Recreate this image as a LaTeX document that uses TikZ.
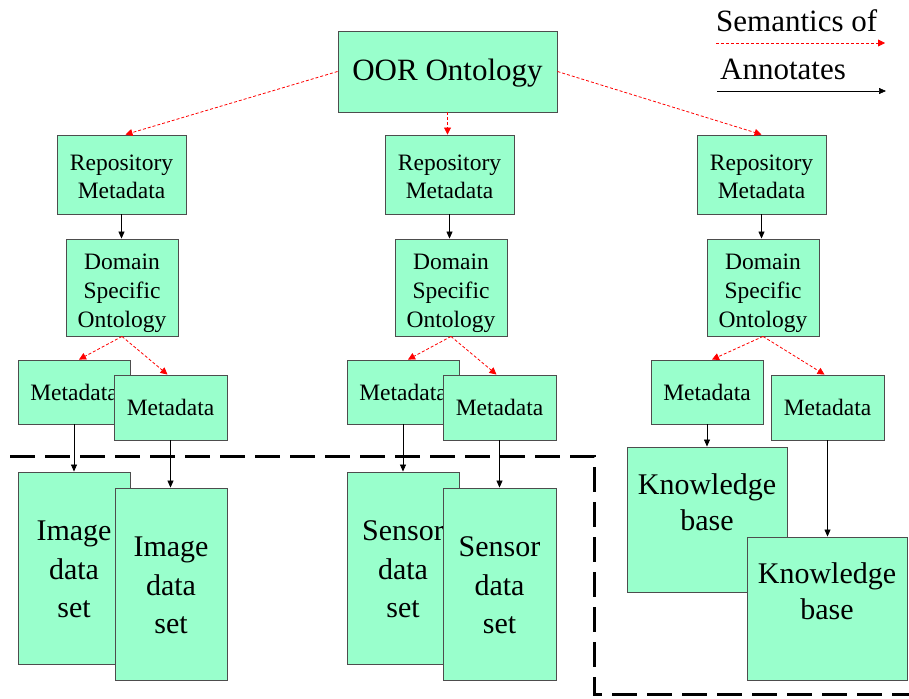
\documentclass[tikz,border=0pt]{standalone}
\usepackage{fontspec}
\setmainfont{Liberation Serif}
\usetikzlibrary{arrows.meta,calc}
\definecolor{mint}{HTML}{99FFCC}
\definecolor{edgegrey}{HTML}{4D4D4D}
\begin{document}
\begin{tikzpicture}[x=1pt,y=-1pt,
  box/.style={draw=edgegrey, fill=mint, line width=0.9pt, inner sep=0pt, align=center},
  txt/.style={inner sep=0pt, align=center},
  ann/.style={draw=black, line width=0.7pt, -{Triangle[length=7pt,width=6pt]}},
  sem/.style={draw=red, line width=0.8pt, dash pattern=on 3pt off 2pt, -{Triangle[length=7pt,width=7pt]}},
  region/.style={draw=black, line width=3pt, dash pattern=on 25pt off 10pt},
  fbig/.style={font=\fontsize{31}{36}\selectfont},
  fsmall/.style={font=\fontsize{23.5}{28}\selectfont},
  fdom/.style={font=\fontsize{23.5}{29}\selectfont},
  fdata/.style={font=\fontsize{30}{38.5}\selectfont},
  fkb/.style={font=\fontsize{30}{36.5}\selectfont},
]
\useasboundingbox (0,0) rectangle (909,698);

% top
\node[box, fbig, minimum width=219pt, minimum height=81pt] (oor) at (447.5,71.5) {\rule{0pt}{25pt}OOR Ontology};

% repository metadata
\node[box, fsmall, minimum width=129pt, minimum height=79pt] (rep1) at (121.5,174.5) {\rule{0pt}{20pt}Repository\\Metadata};
\node[box, fsmall, minimum width=129pt, minimum height=79pt] (rep2) at (449.5,174.5) {\rule{0pt}{20pt}Repository\\Metadata};
\node[box, fsmall, minimum width=129pt, minimum height=79pt] (rep3) at (761.5,174.5) {\rule{0pt}{20pt}Repository\\Metadata};

% domain specific ontology
\node[box, fdom, minimum width=112pt, minimum height=97pt] (dom1) at (122,287.5) {\rule{0pt}{27pt}Domain\\Specific\\Ontology};
\node[box, fdom, minimum width=112pt, minimum height=97pt] (dom2) at (451,287.5) {\rule{0pt}{27pt}Domain\\Specific\\Ontology};
\node[box, fdom, minimum width=112pt, minimum height=97pt] (dom3) at (763,287.5) {\rule{0pt}{27pt}Domain\\Specific\\Ontology};

% metadata pairs
\node[box, fsmall, minimum width=112pt, minimum height=64pt] (meta1a) at (74,392) {Metadata};
\node[box, fsmall, minimum width=113pt, minimum height=65pt] (meta1b) at (170.5,407.5) {Metadata};
\node[box, fsmall, minimum width=112pt, minimum height=64pt] (meta2a) at (403,392) {Metadata};
\node[box, fsmall, minimum width=113pt, minimum height=65pt] (meta2b) at (499.5,407.5) {Metadata};
\node[box, fsmall, minimum width=112pt, minimum height=64pt] (meta3a) at (707,392) {Metadata};
\node[box, fsmall, minimum width=113pt, minimum height=65pt] (meta3b) at (827.5,407.5) {Metadata};

% data sets
\node[box, fdata, minimum width=112pt, minimum height=192pt] (img1) at (74,568) {\rule{0pt}{23pt}Image\\data\\set};
\node[box, fdata, minimum width=112pt, minimum height=192pt] (img2) at (171,584) {\rule{0pt}{23pt}Image\\data\\set};
\node[box, fdata, minimum width=112pt, minimum height=192pt] (sen1) at (403,568) {\rule{0pt}{23pt}Sensor\\data\\set};
\node[box, fdata, minimum width=113pt, minimum height=192pt] (sen2) at (499.5,584) {\rule{0pt}{23pt}Sensor\\data\\set};

% knowledge bases
\node[box, minimum width=160pt, minimum height=145pt] (kb1) at (707,519.5) {};
\node[txt, fkb] (kb1t) at (707,502) {Knowledge\\base};
\node[box, minimum width=160pt, minimum height=143pt] (kb2) at (827,608.5) {};
\node[txt, fkb] (kb2t) at (827,591) {Knowledge\\base};

% dashed region
\coordinate (r1) at (10,456);
\coordinate (r2) at (594,456);
\coordinate (r3) at (594,694);
\coordinate (r4) at (912,694);
\draw[region] (r1) -- (r2) -- (r3) -- (r4);

% semantics arrows
\draw[sem] (oor.west) -- ($(rep1.north)+(4,0)$);
\draw[sem] (oor.south) -- (oor.south |- rep2.north);
\draw[sem] (oor.east) -- (rep3.north);
\draw[sem] (dom1.south) -- ($(meta1a.north)+(5,0)$);
\draw[sem] (dom1.south) -- ($(meta1b.north)+(-3,0)$);
\draw[sem] (dom2.south) -- ($(meta2a.north)+(5,0)$);
\draw[sem] (dom2.south) -- ($(meta2b.north)+(-3,0)$);
\draw[sem] (dom3.south) -- ($(meta3a.north)+(5,0)$);
\draw[sem] (dom3.south) -- ($(meta3b.north)+(-3,0)$);

% annotates arrows
\draw[ann] (rep1.south) -- (rep1.south |- dom1.north);
\draw[ann] (rep2.south) -- (rep2.south |- dom2.north);
\draw[ann] (rep3.south) -- (rep3.south |- dom3.north);
\draw[ann] (meta1a.south) -- (meta1a.south |- img1.north);
\draw[ann] (meta1b.south) -- (meta1b.south |- img2.north);
\draw[ann] (meta2a.south) -- (meta2a.south |- sen1.north);
\draw[ann] (meta2b.south) -- (meta2b.south |- sen2.north);
\draw[ann] (meta3a.south) -- (meta3a.south |- kb1.north);
\draw[ann] (meta3b.south) -- (meta3b.south |- kb2.north);

% legend
\node[txt, fbig, anchor=base west] (lsem) at (716,31.5) {Semantics of};
\coordinate (ls1) at (716,43);
\coordinate (ls2) at (885,43);
\draw[sem] (ls1) -- (ls2);
\node[txt, fbig, anchor=base west] (lann) at (720,79.5) {Annotates};
\coordinate (la1) at (717,91);
\coordinate (la2) at (886,91);
\draw[ann] (la1) -- (la2);
\end{tikzpicture}
\end{document}
